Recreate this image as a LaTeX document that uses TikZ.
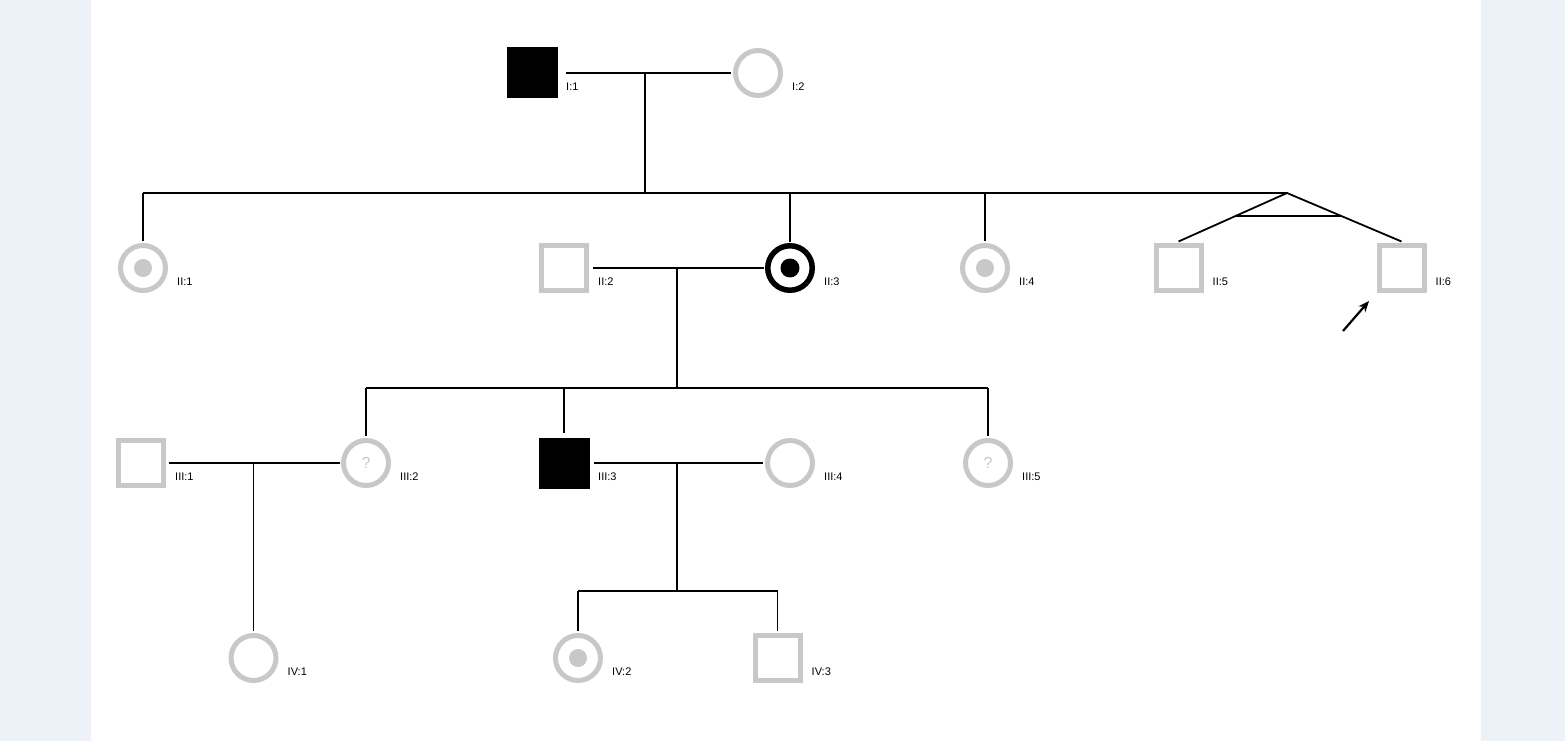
\documentclass[tikz,border=0pt]{standalone}
\usepackage{fontspec}
\setmainfont{Liberation Sans}
\usetikzlibrary{calc,arrows.meta}
\definecolor{bgc}{HTML}{EDF2F9}
\definecolor{gcol}{HTML}{C8C8C8}
\tikzset{
  lnk/.style={line width=1.8pt, black},
  base/.style={inner sep=0pt, outer sep=0pt},
  maleu/.style={base, rectangle, draw=gcol, line width=5pt, minimum size=45pt},
  femu/.style={base, circle, draw=gcol, line width=5pt, minimum size=45pt},
  malea/.style={base, rectangle, fill=black, minimum size=51pt},
  femcar/.style={femu, path picture={\fill[gcol] (path picture bounding box.center) circle (9pt);}},
  femcarblk/.style={base, circle, draw=black, line width=5.5pt, minimum size=44.5pt,
     path picture={\fill[black] (path picture bounding box.center) circle (9.5pt);}},
  femq/.style={femu, text=gcol, font=\fontsize{16}{18}\selectfont},
  lbl/.style={inner sep=0pt, anchor=west, font=\fontsize{11}{13}\selectfont}
}
\newcommand\pers[6]{\node[#4] (#1) at (#2,#3) {#6}; \node[lbl] (#1l) at (#2+34,#3+13.5) {#5};}
\begin{document}
\begin{tikzpicture}[x=1pt,y=-1pt]
\fill[bgc] (0,0) rectangle (1565,741);
\fill[white] (91,0) rectangle (1481,741);
\useasboundingbox (0,0) rectangle (1565,741);
% generation I
\pers{i1}{532}{73}{malea}{I:1}{}
\pers{i2}{758}{73}{femu}{I:2}{}
% generation II
\pers{ii1}{143}{268}{femcar}{II:1}{}
\pers{ii2}{564}{268}{maleu}{II:2}{}
\pers{ii3}{790}{268}{femcarblk}{II:3}{}
\pers{ii4}{985}{268}{femcar}{II:4}{}
\pers{ii5}{1178.5}{268}{maleu}{II:5}{}
\pers{ii6}{1401.5}{268}{maleu}{II:6}{}
% generation III
\pers{iii1}{141}{463}{maleu}{III:1}{}
\pers{iii2}{366}{463}{femq}{III:2}{?}
\pers{iii3}{564}{463}{malea}{III:3}{}
\pers{iii4}{790}{463}{femu}{III:4}{}
\pers{iii5}{988}{463}{femq}{III:5}{?}
% generation IV
\pers{iv1}{253.5}{658}{femu}{IV:1}{}
\pers{iv2}{578}{658}{femcar}{IV:2}{}
\pers{iv3}{777.5}{658}{maleu}{IV:3}{}

% couple I
\draw[lnk, shorten <=8pt, shorten >=5pt] (i1) -- (i2);
\coordinate (m1) at ($(i1)!0.5!(i2)$);
\coordinate (s1) at (645,193);
\coordinate (tw) at (1287,193);
\draw[lnk] (m1) -- (s1);
\draw[lnk] (ii1 |- tw) -- (tw);
\draw[lnk, shorten >=5pt] (ii1 |- tw) -- (ii1);
\draw[lnk, shorten >=4pt] (ii3 |- tw) -- (ii3);
\draw[lnk, shorten >=5pt] (ii4 |- tw) -- (ii4);
% twins
\coordinate (t5) at ([yshift=4pt]ii5.north);
\coordinate (t6) at ([yshift=4pt]ii6.north);
\draw[lnk] (t5) -- (tw) -- (t6);
\draw[lnk] ($(tw)!0.48!(t5)$) -- ($(tw)!0.48!(t6)$);
% proband arrow
\coordinate (pa) at (1343,331);
\coordinate (pb) at (1369,301);
\draw[line width=2.2pt, -{Stealth[length=11pt,width=9pt]}] (pa) -- (pb);

% couple II:2 - II:3
\draw[lnk, shorten <=6pt, shorten >=4pt] (ii2) -- (ii3);
\coordinate (m2) at ($(ii2)!0.5!(ii3)$);
\coordinate (s2) at ($(m2)+(0,120)$);
\draw[lnk] (m2) -- (s2);
\draw[lnk] (iii2 |- s2) -- (iii5 |- s2);
\draw[lnk, shorten >=5pt] (iii2 |- s2) -- (iii2);
\draw[lnk, shorten >=5pt] (iii3 |- s2) -- (iii3);
\draw[lnk, shorten >=5pt] (iii5 |- s2) -- (iii5);

% couple III:1 - III:2
\draw[lnk, shorten <=5pt, shorten >=4pt] (iii1) -- (iii2);
\coordinate (m3) at ($(iii1)!0.5!(iii2)$);
\draw[lnk, shorten >=5pt] (m3) -- (iv1);

% couple III:3 - III:4
\draw[lnk, shorten <=4pt, shorten >=5pt] (iii3) -- (iii4);
\coordinate (m4) at ($(iii3)!0.5!(iii4)$);
\coordinate (s4) at ($(m4)+(0,128)$);
\draw[lnk] (m4) -- (s4);
\draw[lnk] (iv2 |- s4) -- (iv3 |- s4);
\draw[lnk, shorten >=5pt] (iv2 |- s4) -- (iv2);
\draw[lnk, shorten >=5pt] (iv3 |- s4) -- (iv3);
\end{tikzpicture}
\end{document}
